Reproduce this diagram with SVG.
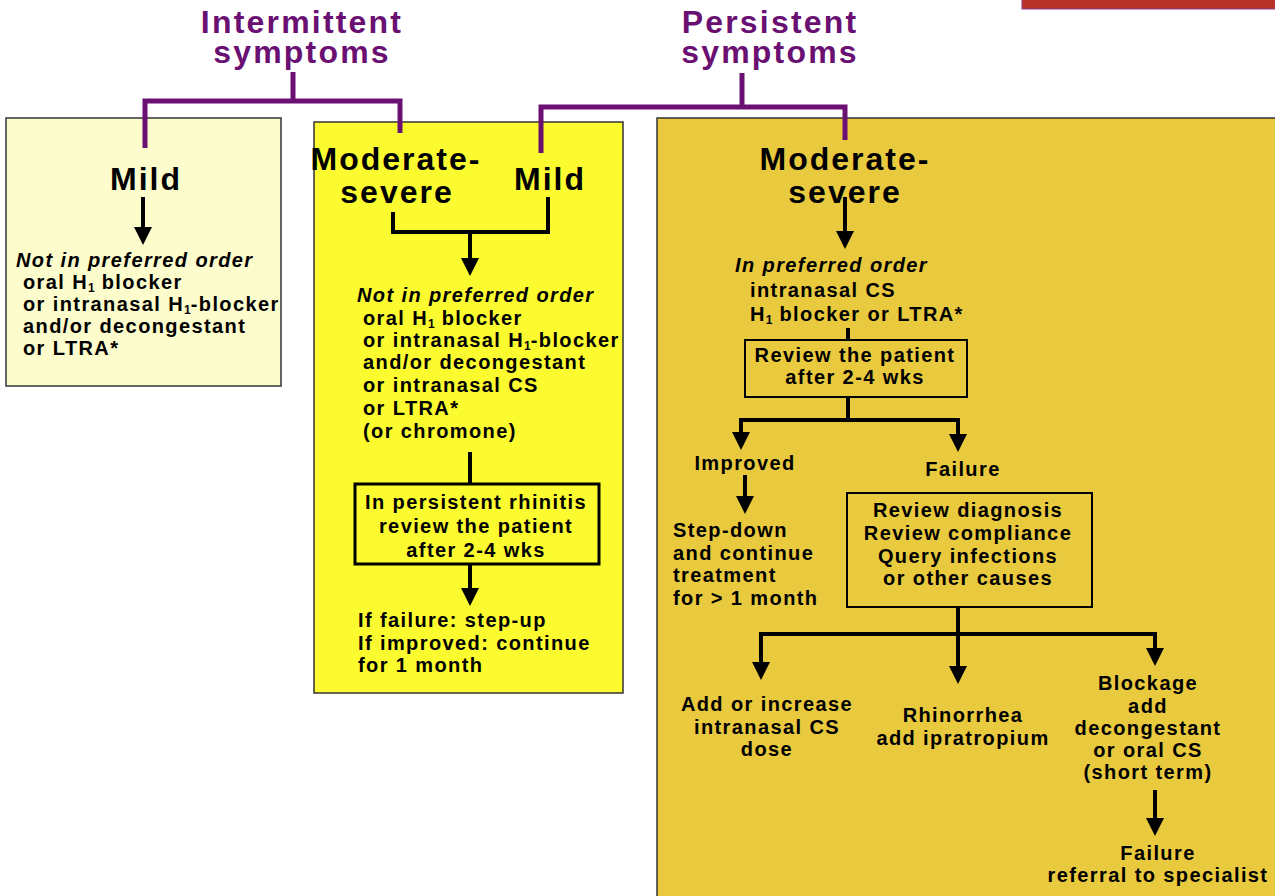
<svg xmlns="http://www.w3.org/2000/svg" width="1275" height="896" viewBox="0 0 1275 896">
<defs>
<marker id="ah" markerUnits="userSpaceOnUse" markerWidth="18" markerHeight="18" viewBox="0 0 18 18" refX="8" refY="9" orient="auto">
<path d="M0,0 L18,9 L0,18 z" fill="#000"/>
</marker>
<style>
.t{font-family:"Liberation Sans",Arial,sans-serif;font-weight:bold;fill:#000}
.b{font-size:20px;letter-spacing:1.4px}
.i{font-style:italic}
.sub{font-size:12px;letter-spacing:0}
.big{font-size:32px;letter-spacing:2px}
.pt{font-size:32px;letter-spacing:2.2px;fill:#6a1072}
.c{text-anchor:middle}
.pl{fill:none;stroke:#6a1072;stroke-width:5}
.bl{fill:none;stroke:#000;stroke-width:4}
.ar{fill:none;stroke:#000;stroke-width:4;marker-end:url(#ah)}
.box{stroke:#333;stroke-width:1.5}
.ib{fill:none;stroke:#000;stroke-width:2}
</style>
</defs>
<rect width="1275" height="896" fill="#fff"/>
<rect x="1022" y="-2" width="260" height="11" fill="#b8322a" stroke="#8a3a8a" stroke-width="1"/>

<g id="title-intermittent">
<text class="t pt c" x="302" y="33">Intermittent</text>
<text class="t pt c" x="302" y="63">symptoms</text>
</g>
<g id="title-persistent">
<text class="t pt c" x="770" y="33">Persistent</text>
<text class="t pt c" x="770" y="63">symptoms</text>
</g>

<g id="box-intermittent-mild">
<rect class="box" x="6" y="118" width="275" height="268" fill="#fcfccc"/>
<text class="t big c" x="146" y="190">Mild</text>
<text class="t b i" x="16" y="267">Not in preferred order</text>
<text class="t b" x="23" y="289">oral H<tspan class="sub" dy="3">1</tspan><tspan dy="-3"> blocker</tspan></text>
<text class="t b" x="23" y="311">or intranasal H<tspan class="sub" dy="3">1</tspan><tspan dy="-3">-blocker</tspan></text>
<text class="t b" x="23" y="333">and/or decongestant</text>
<text class="t b" x="23" y="355">or LTRA*</text>
</g>

<g id="box-middle">
<rect class="box" x="314" y="122" width="309" height="571" fill="#fbfb30"/>
<text class="t big c" x="396" y="170">Moderate-</text>
<text class="t big c" x="397" y="203">severe</text>
<text class="t big c" x="550" y="190">Mild</text>
<text class="t b i" x="357" y="302">Not in preferred order</text>
<text class="t b" x="363" y="325">oral H<tspan class="sub" dy="3">1</tspan><tspan dy="-3"> blocker</tspan></text>
<text class="t b" x="363" y="347">or intranasal H<tspan class="sub" dy="3">1</tspan><tspan dy="-3">-blocker</tspan></text>
<text class="t b" x="363" y="369">and/or decongestant</text>
<text class="t b" x="363" y="392">or intranasal CS</text>
<text class="t b" x="363" y="415">or LTRA*</text>
<text class="t b" x="363" y="438">(or chromone)</text>
<text class="t b" x="358" y="627">If failure: step-up</text>
<text class="t b" x="358" y="650">If improved: continue</text>
<text class="t b" x="358" y="672">for 1 month</text>
</g>

<g id="box-review-middle">
<rect x="355" y="484" width="244" height="80" fill="none" stroke="#000" stroke-width="3"/>
<text class="t b c" x="476" y="509">In persistent rhinitis</text>
<text class="t b c" x="476" y="533">review the patient</text>
<text class="t b c" x="476" y="557">after 2-4 wks</text>
</g>

<g id="box-persistent-moderate">
<rect class="box" x="657" y="118" width="630" height="800" fill="#e9c93e"/>
<text class="t big c" x="845" y="170">Moderate-</text>
<text class="t big c" x="845" y="203">severe</text>
<text class="t b i" x="735" y="272">In preferred order</text>
<text class="t b" x="750" y="297">intranasal CS</text>
<text class="t b" x="750" y="321">H<tspan class="sub" dy="3">1</tspan><tspan dy="-3"> blocker or LTRA*</tspan></text>
</g>

<g id="box-review-right">
<rect class="ib" x="745" y="340" width="222" height="57"/>
<text class="t b c" x="855" y="362">Review the patient</text>
<text class="t b c" x="855" y="384">after 2-4 wks</text>
</g>

<g id="node-improved">
<text class="t b c" x="745" y="470">Improved</text>
</g>
<g id="node-failure">
<text class="t b c" x="963" y="476">Failure</text>
</g>
<g id="node-stepdown">
<text class="t b" x="673" y="537">Step-down</text>
<text class="t b" x="673" y="560">and continue</text>
<text class="t b" x="673" y="582">treatment</text>
<text class="t b" x="673" y="605">for &gt; 1 month</text>
</g>
<g id="box-review-diagnosis">
<rect class="ib" x="847" y="493" width="245" height="114"/>
<text class="t b c" x="968" y="517">Review diagnosis</text>
<text class="t b c" x="968" y="540">Review compliance</text>
<text class="t b c" x="968" y="563">Query infections</text>
<text class="t b c" x="968" y="585">or other causes</text>
</g>
<g id="node-add-cs">
<text class="t b c" x="767" y="711">Add or increase</text>
<text class="t b c" x="767" y="734">intranasal CS</text>
<text class="t b c" x="767" y="756">dose</text>
</g>
<g id="node-rhinorrhea">
<text class="t b c" x="963" y="722">Rhinorrhea</text>
<text class="t b c" x="963" y="745">add ipratropium</text>
</g>
<g id="node-blockage">
<text class="t b c" x="1148" y="690">Blockage</text>
<text class="t b c" x="1148" y="713">add</text>
<text class="t b c" x="1148" y="735">decongestant</text>
<text class="t b c" x="1148" y="757">or oral CS</text>
<text class="t b c" x="1148" y="779">(short term)</text>
</g>
<g id="node-referral">
<text class="t b c" x="1158" y="860">Failure</text>
<text class="t b c" x="1158" y="882">referral to specialist</text>
</g>

<g id="connectors">
<path class="pl" d="M293,72 V101 M145,148 V101 H400 V133"/>
<path class="pl" d="M742,73 V107 M541,153 V107 H845 V140"/>
<line class="ar" x1="143" y1="197" x2="143" y2="235"/>
<path class="bl" d="M393,212 V232 H548 V197"/>
<line class="ar" x1="470" y1="232" x2="470" y2="266"/>
<line class="bl" x1="470" y1="452" x2="470" y2="484"/>
<line class="ar" x1="470" y1="565" x2="470" y2="596"/>
<line class="ar" x1="845" y1="197" x2="845" y2="239"/>
<line class="bl" x1="848" y1="328" x2="848" y2="340"/>
<path class="bl" d="M848,397 V420"/>
<path class="bl" d="M741,420 H958"/>
<line class="ar" x1="741" y1="418" x2="741" y2="440"/>
<line class="ar" x1="958" y1="418" x2="958" y2="442"/>
<line class="ar" x1="745" y1="475" x2="745" y2="504"/>
<line class="bl" x1="958" y1="607" x2="958" y2="634"/>
<path class="bl" d="M761,634 H1156"/>
<line class="ar" x1="761" y1="632" x2="761" y2="670"/>
<line class="ar" x1="958" y1="632" x2="958" y2="674"/>
<line class="ar" x1="1155" y1="632" x2="1155" y2="656"/>
<line class="ar" x1="1155" y1="790" x2="1155" y2="826"/>
</g>
</svg>
